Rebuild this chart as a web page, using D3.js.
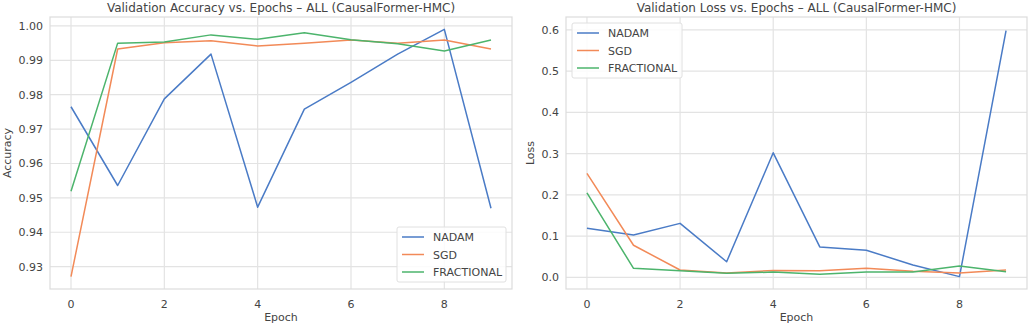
<!DOCTYPE html>
<html>
<head>
<meta charset="utf-8">
<script src="https://cdn.jsdelivr.net/npm/d3@7"></script>
<style>
  body { margin: 0; background: #fff; }
  text { font-family: "DejaVu Sans", sans-serif; fill: #444; }
</style>
</head>
<body>
<div id="chart"></div>
<script>
// data
const epochs = [0, 1, 2, 3, 4, 5, 6, 7, 8, 9];
const seriesNames = ["NADAM", "SGD", "FRACTIONAL"];
const colors = ["#4a7bc6", "#f28a58", "#4cb46c"];

const accNadam = [0.9765, 0.9536, 0.9788, 0.9918, 0.9473, 0.9758, 0.9836, 0.9918, 0.9990, 0.9470];
const accSgd = [0.9271, 0.9933, 0.9951, 0.9957, 0.9942, 0.9950, 0.9959, 0.9950, 0.9959, 0.9933];
const accFrac = [0.9519, 0.9950, 0.9953, 0.9974, 0.9961, 0.9980, 0.9960, 0.9948, 0.9927, 0.9959];

const lossNadam = [0.119, 0.103, 0.131, 0.038, 0.302, 0.074, 0.066, 0.030, 0.002, 0.598];
const lossSgd = [0.252, 0.078, 0.018, 0.011, 0.017, 0.016, 0.022, 0.015, 0.011, 0.018];
const lossFrac = [0.205, 0.022, 0.016, 0.010, 0.013, 0.008, 0.013, 0.013, 0.028, 0.014];

const xTicks = [0, 2, 4, 6, 8];
const accTicks = [0.93, 0.94, 0.95, 0.96, 0.97, 0.98, 0.99, 1.00];
const lossTicks = [0.0, 0.1, 0.2, 0.3, 0.4, 0.5, 0.6];

const W = 1031, H = 327;
const svg = d3.select("#chart").append("svg")
  .attr("width", W).attr("height", H);

function drawPanel(opt) {
  const left = opt.left, right = opt.right, top = 17, bottom = 289;

  let x = d3.scaleLinear([-0.45, 9.45], [left, right]);
  let y = d3.scaleLinear(opt.yDomain, [bottom, top]);

  const g = svg.append("g");

  // grid
  g.append("g").selectAll("line.gx")
    .data(xTicks).join("line")
      .attr("x1", d => x(d)).attr("x2", d => x(d))
      .attr("y1", top).attr("y2", bottom)
      .attr("stroke", "#e3e3e3").attr("stroke-width", 1.2);
  g.append("g").selectAll("line.gy")
    .data(opt.yTicks).join("line")
      .attr("x1", left).attr("x2", right)
      .attr("y1", d => y(d)).attr("y2", d => y(d))
      .attr("stroke", "#e3e3e3").attr("stroke-width", 1.2);

  // frame
  g.append("rect")
    .attr("x", left).attr("y", top)
    .attr("width", right - left).attr("height", bottom - top)
    .attr("fill", "none").attr("stroke", "#dcdcdc").attr("stroke-width", 1.2);

  // tick labels
  g.append("g").selectAll("text")
    .data(xTicks).join("text")
      .attr("x", d => x(d)).attr("y", 308)
      .attr("text-anchor", "middle")
      .style("font-size", "11px")
      .text(d => d);
  g.append("g").selectAll("text")
    .data(opt.yTicks).join("text")
      .attr("x", left - 7).attr("y", d => y(d) + 4)
      .attr("text-anchor", "end")
      .style("font-size", "11px")
      .text(opt.fmt);

  // lines
  let line = d3.line().x((d, i) => x(epochs[i])).y(d => y(d));
  opt.series.forEach((s, i) => {
    g.append("path")
      .datum(s)
      .attr("d", line)
      .attr("fill", "none")
      .attr("stroke", colors[i])
      .attr("stroke-width", 1.5)
      .attr("stroke-linejoin", "round");
  });

  // titles
  g.append("text")
    .attr("x", (left + right) / 2).attr("y", 12)
    .attr("text-anchor", "middle")
    .style("font-size", "12px")
    .text(opt.title);
  g.append("text")
    .attr("x", (left + right) / 2).attr("y", 321)
    .attr("text-anchor", "middle")
    .style("font-size", "11px")
    .text("Epoch");
  g.append("text")
    .attr("transform", `translate(${opt.ylabX},${(top + bottom) / 2}) rotate(-90)`)
    .attr("text-anchor", "middle")
    .style("font-size", "11px")
    .text(opt.ylabel);

  // legend
  const L = opt.legend;
  const lg = g.append("g").attr("transform", `translate(${L.x},${L.y})`);
  lg.append("rect")
    .attr("width", L.w).attr("height", 55).attr("rx", 2)
    .attr("fill", "#fff").attr("fill-opacity", 0.85)
    .attr("stroke", "#e0e0e0");
  seriesNames.forEach((n, i) => {
    let yy = 10 + i * 17.5;
    lg.append("line")
      .attr("x1", 5).attr("x2", 27)
      .attr("y1", yy).attr("y2", yy)
      .attr("stroke", colors[i]).attr("stroke-width", 1.5);
    lg.append("text")
      .attr("x", 36).attr("y", yy + 4)
      .style("font-size", "11px")
      .text(n);
  });
}

drawPanel({
  left: 50, right: 512,
  yDomain: [0.9235, 1.0026],
  yTicks: accTicks,
  fmt: d => d.toFixed(2),
  series: [accNadam, accSgd, accFrac],
  title: "Validation Accuracy vs. Epochs \u2013 ALL (CausalFormer-HMC)",
  ylabel: "Accuracy", ylabX: 11,
  legend: {x: 397, y: 227, w: 109}
});

drawPanel({
  left: 566, right: 1027,
  yDomain: [-0.028, 0.631],
  yTicks: lossTicks,
  fmt: d => d.toFixed(1),
  series: [lossNadam, lossSgd, lossFrac],
  title: "Validation Loss vs. Epochs \u2013 ALL (CausalFormer-HMC)",
  ylabel: "Loss", ylabX: 534,
  legend: {x: 572, y: 23, w: 110}
});
</script>
</body>
</html>
